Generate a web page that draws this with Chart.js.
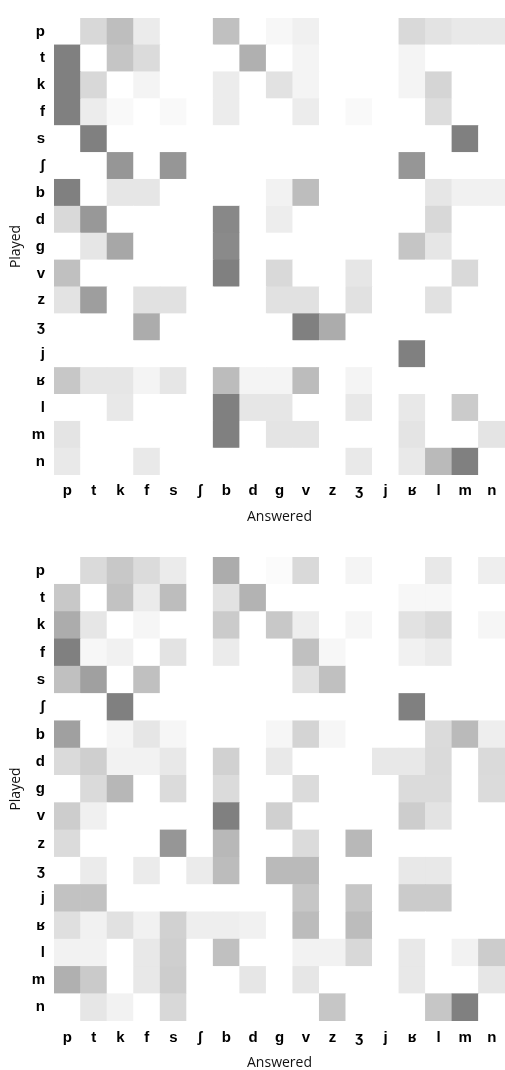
<!DOCTYPE html>
<html>
<head>
<meta charset="utf-8">
<script src="https://cdn.jsdelivr.net/npm/chart.js@4"></script>
<style>
  html, body { margin: 0; padding: 0; background: #fff; overflow: hidden; }
  body { width: 505px; height: 1070px; position: relative; }
  .box { position: absolute; left: 0; width: 505px; }
  #box-top { top: 0; height: 530px; }
  #box-bottom { top: 530px; height: 545px; }
</style>
</head>
<body>
<div class="box" id="box-top"><canvas id="chart-top"></canvas></div>
<div class="box" id="box-bottom"><canvas id="chart-bottom"></canvas></div>
<script>
// phoneme order, used for both axes (rows = played, columns = answered)
const phonemes = ['p', 't', 'k', 'f', 's', 'ʃ', 'b', 'd', 'g', 'v', 'z', 'ʒ', 'j', 'ʁ', 'l', 'm', 'n'];

// shading per cell, 0 = white, 100 = darkest grey
const topMatrix = [
  [0, 31, 51, 16, 0, 0, 50, 0, 6, 12, 0, 0, 0, 30, 22, 17, 17],
  [100, 0, 46, 28, 0, 0, 0, 62, 0, 9, 0, 0, 0, 9, 0, 0, 0],
  [100, 31, 0, 9, 0, 0, 15, 0, 23, 9, 0, 0, 0, 9, 33, 0, 0],
  [100, 15, 5, 0, 5, 0, 15, 0, 0, 15, 0, 5, 0, 0, 27, 0, 0],
  [0, 100, 0, 0, 0, 0, 0, 0, 0, 0, 0, 0, 0, 0, 0, 100, 0],
  [0, 0, 83, 0, 83, 0, 0, 0, 0, 0, 0, 0, 0, 83, 0, 0, 0],
  [100, 0, 20, 20, 0, 0, 0, 0, 10, 52, 0, 0, 0, 0, 20, 11, 11],
  [30, 81, 0, 0, 0, 0, 94, 0, 14, 0, 0, 0, 0, 0, 31, 0, 0],
  [0, 20, 69, 0, 0, 0, 92, 0, 0, 0, 0, 0, 0, 46, 20, 0, 0],
  [50, 0, 0, 0, 0, 0, 100, 0, 30, 0, 0, 20, 0, 0, 0, 30, 0],
  [22, 76, 0, 24, 24, 0, 0, 0, 24, 24, 0, 24, 0, 0, 24, 0, 0],
  [0, 0, 0, 65, 0, 0, 0, 0, 0, 100, 65, 0, 0, 0, 0, 0, 0],
  [0, 0, 0, 0, 0, 0, 0, 0, 0, 0, 0, 0, 0, 100, 0, 0, 0],
  [44, 20, 20, 9, 20, 0, 53, 9, 9, 53, 0, 9, 0, 0, 0, 0, 0],
  [0, 0, 18, 0, 0, 0, 100, 20, 20, 0, 0, 18, 0, 18, 0, 41, 0],
  [21, 0, 0, 0, 0, 0, 100, 0, 21, 21, 0, 0, 0, 21, 0, 0, 21],
  [17, 0, 0, 17, 0, 0, 0, 0, 0, 0, 0, 17, 0, 17, 54, 100, 0]
];

const bottomMatrix = [
  [0, 29, 43, 28, 16, 0, 65, 0, 3, 30, 0, 9, 0, 0, 18, 0, 13],
  [43, 0, 48, 16, 52, 0, 23, 60, 0, 0, 0, 0, 0, 6, 6, 0, 0],
  [65, 20, 0, 7, 0, 0, 41, 0, 43, 13, 0, 7, 0, 23, 29, 0, 7],
  [100, 6, 11, 0, 22, 0, 16, 0, 0, 50, 6, 0, 0, 11, 16, 0, 0],
  [50, 75, 0, 50, 0, 0, 0, 0, 0, 24, 50, 0, 0, 0, 0, 0, 0],
  [0, 0, 100, 0, 0, 0, 0, 0, 0, 0, 0, 0, 0, 100, 0, 0, 0],
  [75, 0, 8, 20, 7, 0, 0, 0, 7, 34, 7, 0, 0, 0, 28, 54, 13],
  [29, 38, 10, 10, 18, 0, 36, 0, 17, 0, 0, 0, 18, 18, 29, 0, 29],
  [0, 29, 57, 0, 28, 0, 28, 0, 0, 28, 0, 0, 0, 28, 28, 0, 28],
  [39, 12, 0, 0, 0, 0, 100, 0, 37, 0, 0, 0, 0, 39, 22, 0, 0],
  [28, 0, 0, 0, 83, 0, 56, 0, 0, 28, 0, 56, 0, 0, 0, 0, 0],
  [0, 16, 0, 16, 0, 16, 53, 0, 54, 54, 0, 0, 0, 18, 18, 0, 0],
  [48, 48, 0, 0, 0, 0, 0, 0, 0, 45, 0, 45, 0, 41, 41, 0, 0],
  [25, 11, 24, 11, 36, 13, 13, 11, 0, 53, 0, 53, 0, 0, 0, 0, 0],
  [10, 10, 0, 18, 38, 0, 50, 0, 0, 10, 10, 31, 0, 18, 0, 10, 40],
  [62, 42, 0, 18, 39, 0, 0, 20, 0, 20, 0, 0, 0, 18, 0, 0, 20],
  [0, 20, 10, 0, 31, 0, 0, 0, 0, 0, 45, 0, 0, 0, 45, 100, 0]
];

const tickFont = { family: "'Liberation Sans', 'DejaVu Sans', sans-serif", size: 15, weight: 'bold' };
const titleFont = { family: "'Open Sans', sans-serif", size: 14 };

function shade(v) {
  const g = Math.round(255 - v * 1.27);
  return `rgb(${g},${g},${g})`;
}

function drawMatrix(canvasId, matrix, pad) {
  const n = phonemes.length;
  // one stacked bar segment per cell; last row first so 'p' sits on top
  const datasets = matrix.map((row, i) => ({
    label: phonemes[i],
    data: row.map(() => 1),
    backgroundColor: row.map(shade),
    borderWidth: 0,
    barPercentage: 1,
    categoryPercentage: 1
  })).reverse();

  return new Chart(document.getElementById(canvasId), {
    type: 'bar',
    data: { labels: phonemes, datasets: datasets },
    options: {
      responsive: true,
      maintainAspectRatio: false,
      animation: false,
      layout: { padding: { top: pad.top, left: 0, right: 0, bottom: 0 } },
      plugins: { legend: { display: false }, tooltip: { enabled: false } },
      scales: {
        x: {
          stacked: true,
          grid: { display: false, drawTicks: false },
          border: { display: false },
          afterFit: axis => { axis.height = pad.axis; },
          ticks: { autoSkip: false, maxRotation: 0, padding: pad.tick, color: '#000', font: tickFont },
          title: { display: true, text: 'Answered', color: '#111', font: titleFont, padding: { top: 0, bottom: pad.title } }
        },
        y: {
          stacked: true,
          min: 0,
          max: n,
          grid: { display: false, drawTicks: false },
          border: { display: false },
          afterBuildTicks: axis => { axis.ticks = phonemes.map((_, i) => ({ value: n - 0.5 - i })); },
          afterFit: axis => { axis.width = 54; },
          ticks: {
            autoSkip: false,
            padding: 9,
            color: '#000',
            font: tickFont,
            callback: v => phonemes[Math.round(n - 0.5 - v)]
          },
          title: { display: true, text: 'Played', color: '#111', font: titleFont, padding: { top: 8, bottom: 0 } }
        }
      }
    }
  });
}

drawMatrix('chart-top', topMatrix, { top: 13, axis: 55, tick: 7, title: 5 });
drawMatrix('chart-bottom', bottomMatrix, { top: 27, axis: 54, tick: 8, title: 4 });
</script>
</body>
</html>
